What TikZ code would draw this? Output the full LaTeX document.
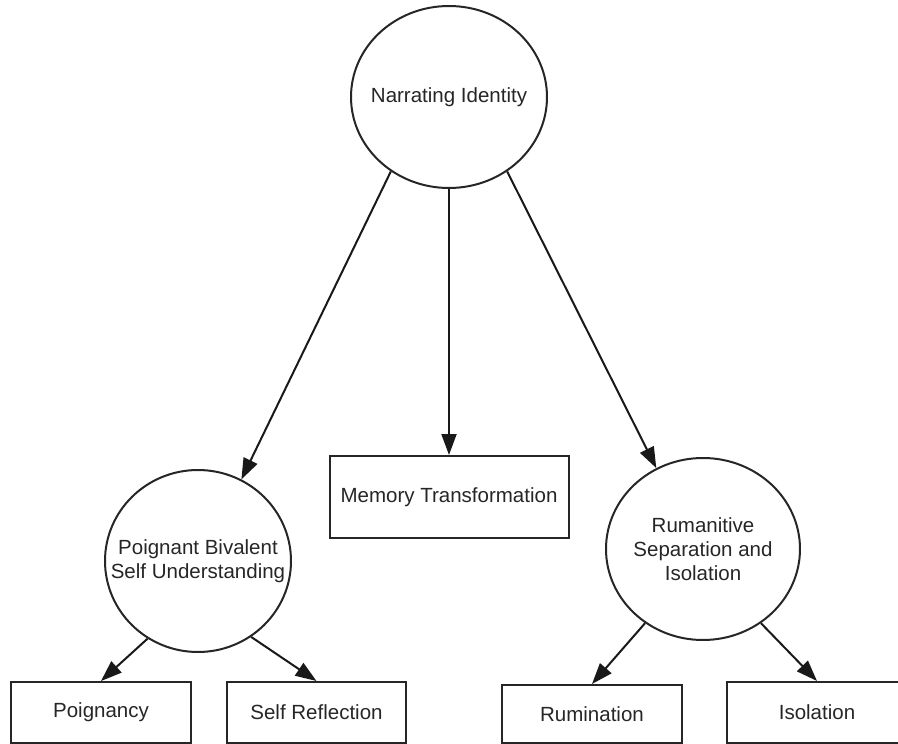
\documentclass[tikz,border=0pt]{standalone}
\usepackage{fontspec}
\setmainfont{Liberation Sans}
\usetikzlibrary{shapes.geometric,arrows.meta}
\begin{document}
\begin{tikzpicture}[x=1pt,y=-1pt,
  txt/.style={text=black!85, font=\fontsize{20.5}{24}\selectfont, align=center, inner sep=0pt},
  circ/.style={draw=black!85, line width=2pt, ellipse, inner sep=0pt, minimum height=182pt},
  boxnode/.style={txt, draw=black!85, line width=2pt, rectangle, inner sep=0pt},
  conn/.style={draw=black!90, line width=2pt, -{Triangle[length=21pt,width=15pt]}}]
\useasboundingbox (0,0) rectangle (898,744);
\clip (0,0) rectangle (898,744);
\node[circ, minimum width=196pt] (top) at (449,97) {};
\node[txt] (topt) at (top.center) {Narrating Identity};
\node[circ, minimum width=186pt] (left) at (198,561) {};
\node[txt] (leftt) at (left.center) {Poignant Bivalent\\Self Understanding};
\node[circ, minimum width=194pt] (right) at (703,549) {};
\node[txt] (rightt) at (right.center) {Rumanitive\\Separation and\\Isolation};
\node[boxnode, minimum width=239pt, minimum height=82pt] (mem) at (449,497) {Memory Transformation};
\node[boxnode, minimum width=180pt, minimum height=61pt] (poig) at (101,712.5) {Poignancy};
\node[boxnode, minimum width=179pt, minimum height=61pt] (selfr) at (316.5,712.5) {Self Reflection};
\node[boxnode, minimum width=180pt, minimum height=58pt] (rum) at (592,714) {Rumination};
\node[boxnode, minimum width=180pt, minimum height=61pt] (iso) at (817,712.5) {Isolation};
\draw[conn] (top.232.8) -- (left.62.6);
\draw[conn] (top.south) -- (mem.north);
\draw[conn] (top.-52.8) -- (right.120.3);
\draw[conn] (left.237.2) -- (poig.north);
\draw[conn] (left.-55.5) -- (selfr.north);
\draw[conn] (right.232.7) -- (rum.north);
\draw[conn] (right.-52.4) -- (iso.north);
\end{tikzpicture}
\end{document}
